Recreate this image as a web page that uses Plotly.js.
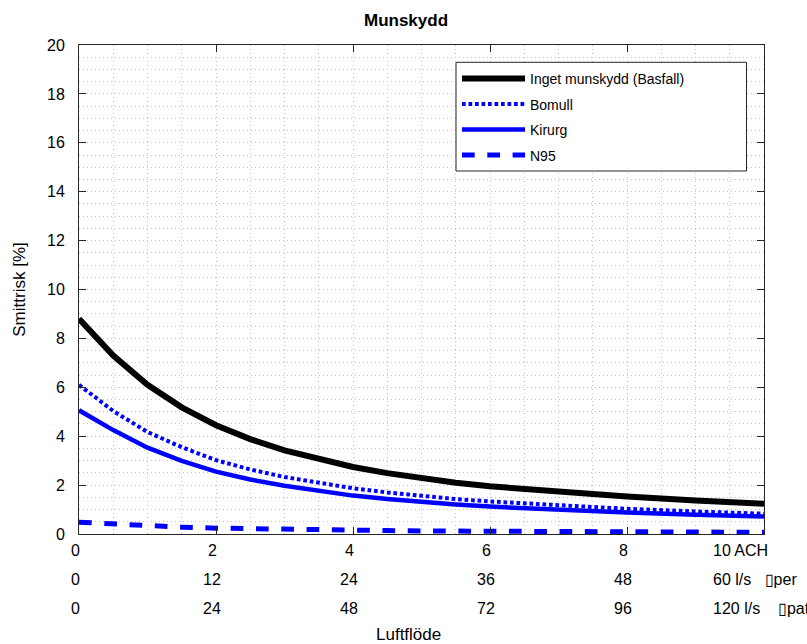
<!DOCTYPE html>
<html><head><meta charset="utf-8">
<script src="https://cdn.plot.ly/plotly-3.0.1.min.js"></script>
<style>html,body{margin:0;padding:0;background:#fff}#chart{width:807px;height:644px}</style>
</head><body><div id="chart"></div>
<script>
// Luftflöde (ACH)
const ach     = [0, 0.5, 1, 1.5, 2, 2.5, 3, 3.5, 4, 4.5, 5, 5.5, 6, 7, 8, 9, 10];
// Smittrisk [%]
const basfall = [8.8, 7.3, 6.1, 5.18, 4.45, 3.88, 3.42, 3.05, 2.74, 2.49, 2.28, 2.10, 1.95, 1.71, 1.53, 1.37, 1.24];
const bomull  = [6.1, 5.03, 4.17, 3.55, 3.02, 2.64, 2.33, 2.08, 1.87, 1.70, 1.56, 1.43, 1.33, 1.16, 1.03, 0.92, 0.83];
const kirurg  = [5.06, 4.25, 3.53, 2.99, 2.55, 2.23, 1.97, 1.75, 1.57, 1.43, 1.31, 1.21, 1.12, 0.98, 0.88, 0.79, 0.72];
const n95     = [0.48, 0.40, 0.33, 0.28, 0.24, 0.21, 0.19, 0.17, 0.15, 0.14, 0.125, 0.115, 0.105, 0.095, 0.085, 0.075, 0.07];

const seriesNames = ['Inget munskydd (Basfall)', 'Bomull', 'Kirurg', 'N95'];

// x tick label rows
const tickAch = [0, 2, 4, 6, 8, 10];
const tickPer = [0, 12, 24, 36, 48, 60];
const tickPat = [0, 24, 48, 72, 96, 120];
const unitAch = 'ACH';
const unitPer = 'l/s\u00a0\u00a0\u00a0\u25AFper';
const unitPat = 'l/s\u00a0\u00a0\u00a0\u00a0\u25AFpat';
const yTicks = [0, 2, 4, 6, 8, 10, 12, 14, 16, 18, 20];

const F = 'Liberation Sans, Arial, Helvetica, sans-serif';
const BLUE = '#0000ff';

const traces = [
  {x: ach, y: basfall, name: seriesNames[0], legendgroup: 'g1', mode: 'lines', line: {color: '#000000', width: 6}},
  {x: ach, y: bomull,  name: seriesNames[1], legendgroup: 'g2', mode: 'lines', line: {color: BLUE, width: 4, dash: '3.7px,2.8px'}},
  {x: ach, y: kirurg,  name: seriesNames[2], legendgroup: 'g3', mode: 'lines', line: {color: BLUE, width: 4.5}},
  {x: ach, y: n95,     name: seriesNames[3], legendgroup: 'g4', mode: 'lines', line: {color: BLUE, width: 5, dash: '12.7px,12.6px'}}
];

const plotLeft = 79, plotRight = 764, plotW = plotRight - plotLeft;
const plotTop = 45, plotBottom = 534, plotH = plotBottom - plotTop;
const py = px => (plotBottom - px) / plotH;
const pxp = px => (px - plotLeft) / plotW;
const rows = [
  {vals: tickAch, unit: unitAch, y: py(550)},
  {vals: tickPer, unit: unitPer, y: py(579)},
  {vals: tickPat, unit: unitPat, y: py(608)}
];
const annotations = [];
rows.forEach(r => {
  r.vals.forEach((v, i) => {
    const last = i === r.vals.length - 1;
    annotations.push({
      x: tickAch[i], xref: 'x', y: r.y, yref: 'paper',
      text: last ? (v + ' ' + r.unit) : String(v),
      showarrow: false, xanchor: last ? 'left' : 'center', yanchor: 'middle',
      xshift: last ? -53 : -4,
      font: {family: F, size: 16, color: '#000'}
    });
  });
});
annotations.push({
  x: 0.481, xref: 'paper', y: py(634), yref: 'paper', text: 'Luftflöde',
  showarrow: false, xanchor: 'center', yanchor: 'middle',
  font: {family: F, size: 17, color: '#000'}
});

const gridCol = '#c4c4c4';
const axisCommon = {
  ticks: 'inside', ticklen: 7, tickcolor: '#262626', tickwidth: 1,
  showline: true, linecolor: '#262626', linewidth: 1, mirror: 'ticks',
  showgrid: true, gridcolor: gridCol, griddash: '1px,3px', gridwidth: 1,
  zeroline: false, tick0: 0, dtick: 2,
  minor: {dtick: 0.5, showgrid: true, gridcolor: gridCol, griddash: '1px,3px', gridwidth: 1, ticks: ''}
};

const layout = {
  width: 807, height: 644,
  margin: {l: plotLeft, r: 807 - plotRight, t: plotTop, b: 644 - plotBottom, pad: 0},
  paper_bgcolor: '#ffffff', plot_bgcolor: '#ffffff',
  font: {family: F, size: 16, color: '#000'},
  title: {text: '<b>Munskydd</b>', font: {family: F, size: 17, color: '#000'},
          x: 406 / 807, xref: 'container', xanchor: 'center',
          y: 1 - 20 / 644, yref: 'container', yanchor: 'middle'},
  xaxis: Object.assign({}, axisCommon, {range: [0, 10], showticklabels: false}),
  yaxis: Object.assign({}, axisCommon, {range: [0, 20], tickvals: yTicks, tickmode: 'array',
          ticklabelstandoff: 10, tickfont: {family: F, size: 16, color: '#000'},
          minor: {dtick: 0.5, tick0: 0, showgrid: true, gridcolor: gridCol, griddash: '1px,3px', gridwidth: 1, ticks: ''},
          title: {text: 'Smittrisk [%]', font: {family: F, size: 17, color: '#000'}, standoff: 17}}),
  showlegend: true,
  legend: {x: pxp(457), y: py(63), xanchor: 'left', yanchor: 'top',
           borderwidth: 0, bgcolor: 'rgba(0,0,0,0)',
           font: {family: F, size: 14, color: '#000'},
           itemwidth: 63, traceorder: 'grouped', tracegroupgap: 4.3},
  shapes: [{type: 'rect', xref: 'paper', yref: 'paper', layer: 'above',
            x0: pxp(456), x1: pxp(746.5), y0: py(171), y1: py(62.3),
            line: {color: '#262626', width: 1}, fillcolor: '#ffffff'}],
  annotations: annotations
};

Plotly.newPlot('chart', traces, layout, {displayModeBar: false, staticPlot: true});
</script>
</body></html>
